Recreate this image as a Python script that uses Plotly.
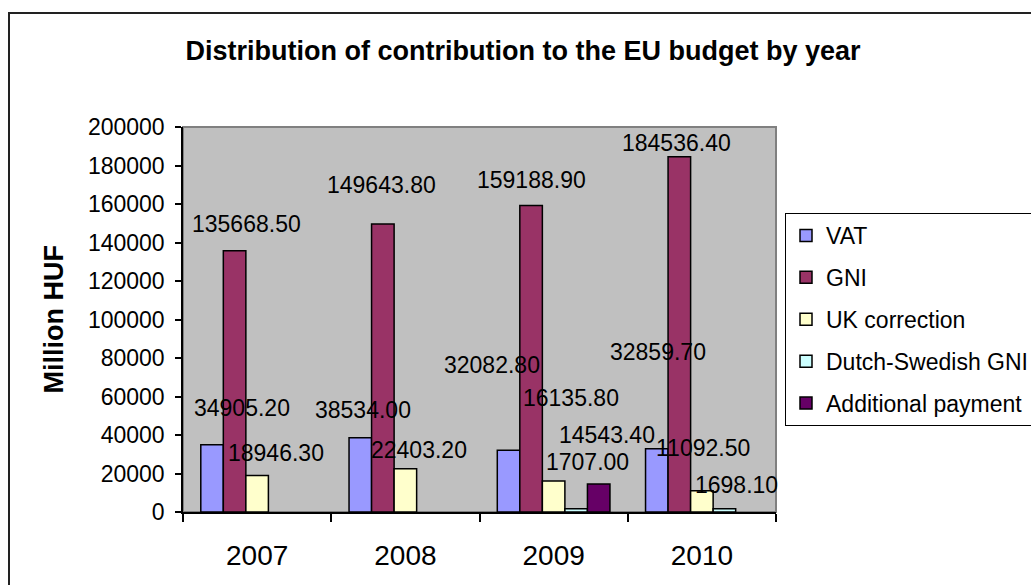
import plotly.graph_objects as go

years = ["2007", "2008", "2009", "2010"]
vat = [34905.20, 38534.00, 32082.80, 32859.70]
gni = [135668.50, 149643.80, 159188.90, 184536.40]
uk_correction = [18946.30, 22403.20, 16135.80, 11092.50]
dutch_swedish = [None, None, 1707.00, 1698.10]
additional = [None, None, 14543.40, None]

series_names = ["VAT", "GNI", "UK correction", "Dutch-Swedish GNI", "Additional payment"]
series_values = [vat, gni, uk_correction, dutch_swedish, additional]
colors = ["#9999FF", "#993366", "#FFFFCC", "#CCFFFF", "#660066"]

# label placement offsets in pixels (dx right, dy up from bar top)
label_offsets = [
    [(30, 37), (3, 28), (-17, 85), (1, 97)],
    [(12, 27), (-1, 39), (0, 26), (-3, 14)],
    [(19, 23), (14, 19), (17, 83), (1, 43)],
    [None, None, (11, 47), (12, 24)],
    [None, None, (8, 49), None],
]

FONT = "Arial, Liberation Sans, sans-serif"
W, H = 1031, 585
L, R, T, B = 183, 255, 127, 73
BARGAP = 0.24
nser = len(series_names)
bw = (1 - BARGAP) / nser

fig = go.Figure()
for i, (name, vals, col) in enumerate(zip(series_names, series_values, colors)):
    fig.add_trace(go.Bar(
        x=years, y=vals, name=name, legendgroup=name,
        marker=dict(color=col, line=dict(color="black", width=1.5)),
    ))

annotations = []
for i, vals in enumerate(series_values):
    for j, v in enumerate(vals):
        if v is None or label_offsets[i][j] is None:
            continue
        dx, dy = label_offsets[i][j]
        annotations.append(dict(
            x=j + (i - (nser - 1) / 2) * bw, y=v, xref="x", yref="y",
            text=f"{v:.2f}", showarrow=False, xshift=dx, yshift=dy,
            xanchor="center", yanchor="middle",
            font=dict(family=FONT, size=23, color="black"),
        ))

pw = W - L - R
ph = H - T - B
annotations.append(dict(
    x=(53 - L) / pw, y=0.5, xref="paper", yref="paper", text="<b>Million HUF</b>",
    textangle=-90, showarrow=False, xanchor="center", yanchor="middle",
    font=dict(family=FONT, size=27, color="black"),
))

shapes = [
    dict(type="rect", xref="x domain", yref="y domain", x0=0, x1=1, y0=0, y1=1,
         line=dict(color="#808080", width=2), layer="below"),
    dict(type="rect", xref="paper", yref="paper",
         x0=(9 - L) / pw, x1=(W + 20 - L) / pw,
         y0=-(H + 20 - T - ph) / ph, y1=(H - B - 13) / ph,
         line=dict(color="#222222", width=2), fillcolor="rgba(0,0,0,0)", layer="below"),
]

fig.update_layout(
    width=W, height=H,
    margin=dict(l=L, r=R, t=T, b=B, autoexpand=False),
    paper_bgcolor="white", plot_bgcolor="#C0C0C0",
    barmode="group", bargap=BARGAP, bargroupgap=0,
    font=dict(family=FONT, color="black"),
    title=dict(text="<b>Distribution of contribution to the EU budget by year</b>",
               x=523 / W, xref="container", xanchor="center",
               y=1 - 51 / H, yref="container", yanchor="middle",
               font=dict(family=FONT, size=27, color="black")),
    xaxis=dict(type="category", range=[-0.5, 3.5], showline=True, linecolor="black", linewidth=1.5,
               ticks="outside", tickson="boundaries", ticklen=8, tickcolor="black", tickwidth=1.5,
               tickfont=dict(family=FONT, size=28, color="black"), ticklabelstandoff=18,
               showgrid=False, zeroline=False),
    yaxis=dict(range=[0, 200000], dtick=20000, tickformat="d", showline=True, linecolor="black",
               linewidth=1.5, ticks="outside", ticklen=6, tickcolor="black", tickwidth=1.5,
               tickfont=dict(family=FONT, size=23, color="black"), ticklabelstandoff=6,
               showgrid=False, zeroline=False),
    legend=dict(x=(785 - L) / pw, xanchor="left", y=(H - B - 213) / ph, yanchor="top",
                bgcolor="white", bordercolor="black", borderwidth=1,
                font=dict(family=FONT, size=23, color="black"),
                tracegroupgap=9, traceorder="grouped"),
    annotations=annotations, shapes=shapes,
)

fig.write_html("out.html")
